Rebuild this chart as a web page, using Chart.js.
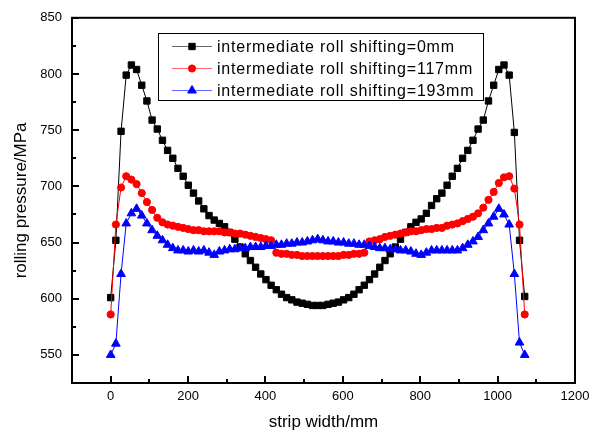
<!DOCTYPE html>
<html><head><meta charset="utf-8">
<script src="https://cdn.jsdelivr.net/npm/chart.js@4/dist/chart.umd.min.js"></script>
<style>html,body{margin:0;padding:0;background:#fff;}canvas{display:block;}</style>
</head><body>
<canvas id="c" width="601" height="438"></canvas>
<script>
// strip width positions (mm)
const stripWidth = [0, 13.4, 26.8, 40.1, 53.5, 66.9, 80.3, 93.6, 107.0, 120.4,
  133.8, 147.1, 160.5, 173.9, 187.3, 200.6, 214.0, 227.4, 240.8, 254.1,
  267.5, 280.9, 294.3, 307.6, 321.0, 334.4, 347.8, 361.1, 374.5, 387.9,
  401.3, 414.6, 428.0, 441.4, 454.8, 468.1, 481.5, 494.9, 508.3, 521.6,
  535.0, 548.4, 561.8, 575.1, 588.5, 601.9, 615.3, 628.6, 642.0, 655.4,
  668.8, 682.1, 695.5, 708.9, 722.3, 735.6, 749.0, 762.4, 775.8, 789.1,
  802.5, 815.9, 829.3, 842.6, 856.0, 869.4, 882.8, 896.1, 909.5, 922.9,
  936.3, 949.6, 963.0, 976.4, 989.8, 1003.1, 1016.5, 1029.9, 1043.3, 1056.6, 1070.0];

// rolling pressure (MPa), intermediate roll shifting = 0 mm
const shift0 = [601, 652, 749, 799, 808, 804, 790, 776, 759, 751, 741, 732, 725,
  716, 709, 701, 694, 687, 680, 674, 670, 667, 664, 659, 653, 646, 640, 634, 628, 622, 617,
  612, 608, 604, 601, 599, 597, 596, 595, 594, 594,
  594, 595, 596, 597, 599, 601, 604, 608, 612, 617,
  622, 628, 634, 640, 646, 653, 659, 664, 668, 671,
  676, 683, 689, 694, 701, 709, 716, 725, 732, 741,
  751, 759, 776, 790, 804, 808, 799, 748, 652, 602];

// intermediate roll shifting = 117 mm
const shift117 = [586, 666, 699, 709, 706, 702, 694, 686, 679, 672, 668, 666, 665,
  664, 663, 662, 661, 661, 660, 660, 660, 660, 659, 659, 658, 658, 657, 656, 655, 654, 653, 652,
  641, 640, 640, 639, 639, 638, 638, 638, 638, 638, 638, 638, 638, 639, 639, 640, 640,
  641,
  651, 652, 653, 655, 656, 657, 658, 659, 660, 660, 661, 662, 662, 663, 663,
  665, 666, 667, 669, 671, 673, 676, 681, 688, 695, 703, 708, 709, 698, 666, 586];

// intermediate roll shifting = 193 mm
const shift193 = [550, 560, 622, 667, 676, 680, 674, 667, 661, 656, 652, 648, 645,
  643, 643, 642, 643, 642, 643, 641, 639, 642, 643, 644, 644, 645, 645, 646, 646, 646, 647,
  647, 648, 648, 649, 649, 650, 650, 651, 652, 653, 652, 651, 651, 650, 650, 649, 649, 648, 648, 647,
  646, 645, 645, 644, 644, 643, 643, 642, 640, 639, 641, 643, 643, 643, 643, 643, 643,
  645, 648, 651, 655, 661, 667, 673, 680, 675, 666, 622, 561, 550];

const seriesLabels = ['intermediate roll shifting=0mm', 'intermediate roll shifting=117mm', 'intermediate roll shifting=193mm'];
const xTickValues = [0, 200, 400, 600, 800, 1000, 1200];
const xTickLabels = ['0', '200', '400', '600', '800', '1000', '1200'];
const xMinorValues = [100, 300, 500, 700, 900, 1100];
const yTickValues = [550, 600, 650, 700, 750, 800, 850];
const yTickLabels = ['550', '600', '650', '700', '750', '800', '850'];
const yMinorValues = [575, 625, 675, 725, 775, 825];

const FONT = "'Liberation Sans', Arial, sans-serif";
Chart.defaults.font.family = FONT;
Chart.defaults.color = '#000';

const toPoints = ys => ys.map((y, i) => ({x: stripWidth[i], y: y}));

const styles = [
  {color: '#000000', style: 'rect', r: 4.5, order: 3},
  {color: '#ff0000', style: 'circle', r: 3.6, order: 2},
  {color: '#0000ff', style: 'triangle', r: 5, order: 1}
];
const seriesData = [shift0, shift117, shift193];

const datasets = seriesData.map((d, k) => ({
  label: seriesLabels[k],
  data: toPoints(d),
  showLine: true,
  borderColor: styles[k].color,
  backgroundColor: styles[k].color,
  borderWidth: 1,
  pointStyle: styles[k].style,
  pointRadius: styles[k].r,
  pointBorderWidth: 1,
  pointBorderColor: styles[k].color,
  pointBackgroundColor: styles[k].color,
  tension: 0,
  order: styles[k].order,
  clip: false
}));

function drawMarker(ctx, style, r, x, y, color) {
  ctx.save();
  ctx.fillStyle = color; ctx.strokeStyle = color; ctx.lineWidth = 1;
  ctx.beginPath();
  if (style === 'rect') {
    const s = Math.SQRT1_2 * r;
    ctx.rect(x - s, y - s, 2 * s, 2 * s);
  } else if (style === 'circle') {
    ctx.arc(x, y, r, 0, Math.PI * 2);
  } else {
    let a = 0;
    ctx.moveTo(x + Math.sin(a) * r, y - Math.cos(a) * r);
    a += 2 * Math.PI / 3;
    ctx.lineTo(x + Math.sin(a) * r, y - Math.cos(a) * r);
    a += 2 * Math.PI / 3;
    ctx.lineTo(x + Math.sin(a) * r, y - Math.cos(a) * r);
    ctx.closePath();
  }
  ctx.fill(); ctx.stroke();
  ctx.restore();
}

const framePlugin = {
  id: 'frameAndLegend',
  afterDraw(chart) {
    const ctx = chart.ctx, ca = chart.chartArea;
    const xs = chart.scales.x, ys = chart.scales.y;
    ctx.save();
    ctx.strokeStyle = '#000';
    ctx.lineWidth = 2;
    ctx.strokeRect(ca.left, ca.top, ca.right - ca.left, ca.bottom - ca.top);
    // inward ticks
    ctx.lineWidth = 2;
    ctx.beginPath();
    xTickValues.forEach(v => { const p = Math.round(xs.getPixelForValue(v)); ctx.moveTo(p, ca.bottom); ctx.lineTo(p, ca.bottom - 7); });
    xMinorValues.forEach(v => { const p = Math.round(xs.getPixelForValue(v)); ctx.moveTo(p, ca.bottom); ctx.lineTo(p, ca.bottom - 4); });
    yTickValues.forEach(v => { const p = Math.round(ys.getPixelForValue(v)); ctx.moveTo(ca.left, p); ctx.lineTo(ca.left + 7, p); });
    yMinorValues.forEach(v => { const p = Math.round(ys.getPixelForValue(v)); ctx.moveTo(ca.left, p); ctx.lineTo(ca.left + 4, p); });
    ctx.stroke();

    // legend box
    const bx = 158.5, by = 33.5, bw = 325, bh = 67;
    ctx.fillStyle = '#fff';
    ctx.fillRect(bx, by, bw, bh);
    ctx.lineWidth = 1;
    ctx.strokeStyle = '#000';
    ctx.strokeRect(bx, by, bw, bh);
    const rowsY = [46.5, 68.5, 90.5];
    ctx.font = '16px ' + FONT;
    ctx.textBaseline = 'middle';
    ctx.textAlign = 'left';
    try { ctx.letterSpacing = '0.8px'; } catch (e) {}
    chart.data.datasets.forEach((ds, k) => {
      const y = rowsY[k];
      ctx.strokeStyle = styles[k].color;
      ctx.lineWidth = 1;
      ctx.globalAlpha = 0.6;
      ctx.beginPath(); ctx.moveTo(172, y); ctx.lineTo(212, y); ctx.stroke();
      ctx.globalAlpha = 1;
      drawMarker(ctx, styles[k].style, styles[k].r, 192, y, styles[k].color);
      ctx.fillStyle = '#000';
      ctx.fillText(ds.label, 217, y + 1);
    });
    ctx.restore();
  }
};

new Chart(document.getElementById('c'), {
  type: 'scatter',
  data: {datasets: datasets},
  options: {
    responsive: false,
    animation: false,
    devicePixelRatio: 1,
    layout: {padding: {left: 0, right: 26, top: 13, bottom: 0}},
    plugins: {legend: {display: false}, tooltip: {enabled: false}},
    scales: {
      x: {
        type: 'linear', min: -100, max: 1200,
        afterBuildTicks: s => { s.ticks = xTickValues.map(v => ({value: v})); },
        afterFit: s => { s.height = 55; },
        ticks: {font: {size: 13}, color: '#000', padding: 6, maxRotation: 0, autoSkip: false,
          callback: (v, i) => xTickLabels[i]},
        grid: {display: false, drawTicks: false},
        border: {display: false},
        title: {display: true, text: 'strip width/mm', font: {size: 17}, color: '#000', padding: {top: 0, bottom: 5}}
      },
      y: {
        type: 'linear', min: 525, max: 850,
        afterBuildTicks: s => { s.ticks = yTickValues.map(v => ({value: v})); },
        afterFit: s => { s.width = 72; },
        ticks: {font: {size: 13}, color: '#000', padding: 10, autoSkip: false,
          callback: (v, i) => yTickLabels[i]},
        grid: {display: false, drawTicks: false},
        border: {display: false},
        title: {display: true, text: 'rolling pressure/MPa', font: {size: 17}, color: '#000', padding: {top: 11, bottom: 0}}
      }
    }
  },
  plugins: [framePlugin]
});
</script>
</body></html>
